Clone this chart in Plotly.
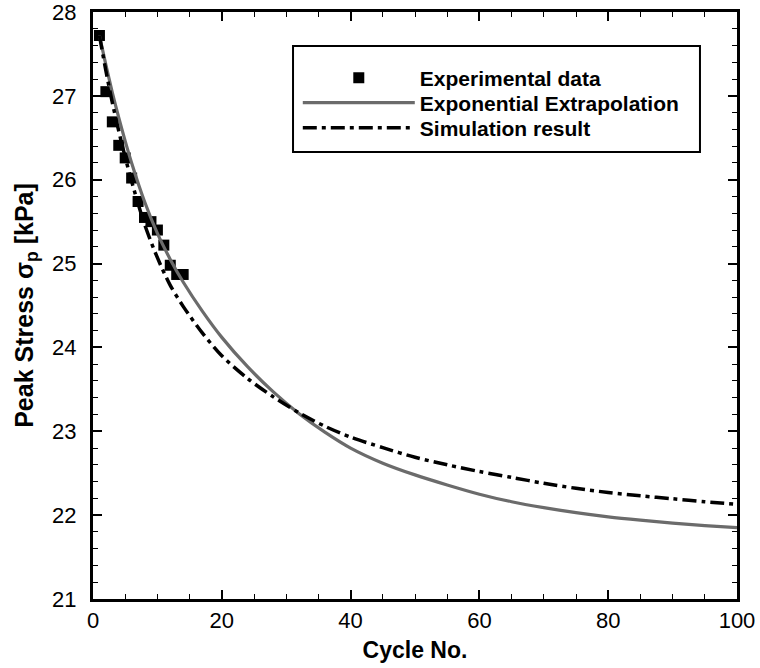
import plotly.graph_objects as go

# Experimental data
exp_cycle = [1, 2, 3, 4, 5, 6, 7, 8, 9, 10, 11, 12, 13, 14]
exp_stress = [27.72, 27.05, 26.69, 26.41, 26.26, 26.02, 25.74, 25.55, 25.50, 25.40, 25.22, 24.98, 24.87, 24.87]

# Exponential extrapolation curve
fit_cycle = [1, 2, 3, 4, 5, 6, 8, 10, 12, 14, 17, 20, 24, 28, 32, 36, 40, 45, 50, 55, 60, 65, 70, 75, 80, 85, 90, 95, 100]
fit_stress = [27.72, 27.37, 27.04, 26.74, 26.46, 26.20, 25.74, 25.36, 25.05, 24.78, 24.43, 24.12, 23.77, 23.47,
              23.21, 22.99, 22.80, 22.62, 22.48, 22.36, 22.25, 22.16, 22.09, 22.03, 21.98, 21.94, 21.905, 21.875, 21.85]

# Simulation result curve
sim_cycle = [1, 2, 3, 4, 5, 6, 8, 10, 12, 14, 17, 20, 24, 28, 32, 36, 40, 45, 50, 55, 60, 65, 70, 75, 80, 85, 90, 95, 100]
sim_stress = [27.72, 27.30, 26.92, 26.58, 26.27, 25.98, 25.47, 25.07, 24.74, 24.49, 24.17, 23.90, 23.63, 23.41,
              23.22, 23.06, 22.93, 22.805, 22.69, 22.60, 22.52, 22.45, 22.38, 22.32, 22.27, 22.23, 22.195, 22.16, 22.13]

FONT = "Liberation Sans, Arial, sans-serif"

fig = go.Figure()
fig.add_trace(go.Scatter(
    x=exp_cycle, y=exp_stress, mode="markers", name="Experimental data",
    marker=dict(symbol="square", size=11, color="black"), legend="legend",
))
fig.add_trace(go.Scatter(
    x=fit_cycle, y=fit_stress, mode="lines", name="Exponential Extrapolation",
    line=dict(color="#6b6b6b", width=3.2, shape="spline", smoothing=0.8), legend="legend2",
))
fig.add_trace(go.Scatter(
    x=sim_cycle, y=sim_stress, mode="lines", name="Simulation result",
    line=dict(color="black", width=3.5, dash="14px,5px,4px,5px", shape="spline", smoothing=0.8),
    legend="legend3",
))

axis_common = dict(
    showline=True, linecolor="black", linewidth=3, mirror="ticks",
    ticks="inside", tickcolor="black", tickwidth=2, ticklen=9,
    showgrid=False, zeroline=False, automargin=False,
    ticklabeloverflow="allow",
    tickfont=dict(family=FONT, size=22, color="black"),
)

fig.update_xaxes(
    range=[0, 100], dtick=20, tick0=0,
    minor=dict(dtick=5, ticks="inside", ticklen=5, tickwidth=1, tickcolor="black"),
    title=dict(text="<b>Cycle No.</b>", font=dict(family=FONT, size=23, color="black"), standoff=10),
    **axis_common,
)
fig.update_yaxes(
    range=[21, 28], dtick=1, tick0=21,
    minor=dict(dtick=0.2, ticks="inside", ticklen=5, tickwidth=1, tickcolor="black"),
    ticklabelstandoff=9,
    title=dict(text="<b>Peak Stress σ<sub>p</sub> [kPa]</b>", font=dict(family=FONT, size=25, color="black"), standoff=12),
    **axis_common,
)

# legend frame (paper coordinates of the plot area)
fig.add_shape(type="rect", xref="paper", yref="paper",
              x0=0.3106, x1=0.9425, y0=0.7615, y1=0.9421,
              line=dict(color="black", width=2), fillcolor="rgba(0,0,0,0)", layer="above")

leg_common = dict(
    x=0.318, xanchor="left", yanchor="middle",
    bgcolor="rgba(0,0,0,0)", borderwidth=0,
    font=dict(family=FONT, size=21, color="black", weight="bold"),
    itemwidth=112,
)

fig.update_layout(
    width=760, height=668,
    margin=dict(l=93, r=23, t=12, b=69),
    paper_bgcolor="white", plot_bgcolor="white",
    showlegend=True,
    legend=dict(y=0.8876, **leg_common),
    legend2=dict(y=0.8450, **leg_common),
    legend3=dict(y=0.8024, **leg_common),
)

fig.write_html("out.html", config={"displayModeBar": False},
               post_script="document.body.style.margin='0';")
